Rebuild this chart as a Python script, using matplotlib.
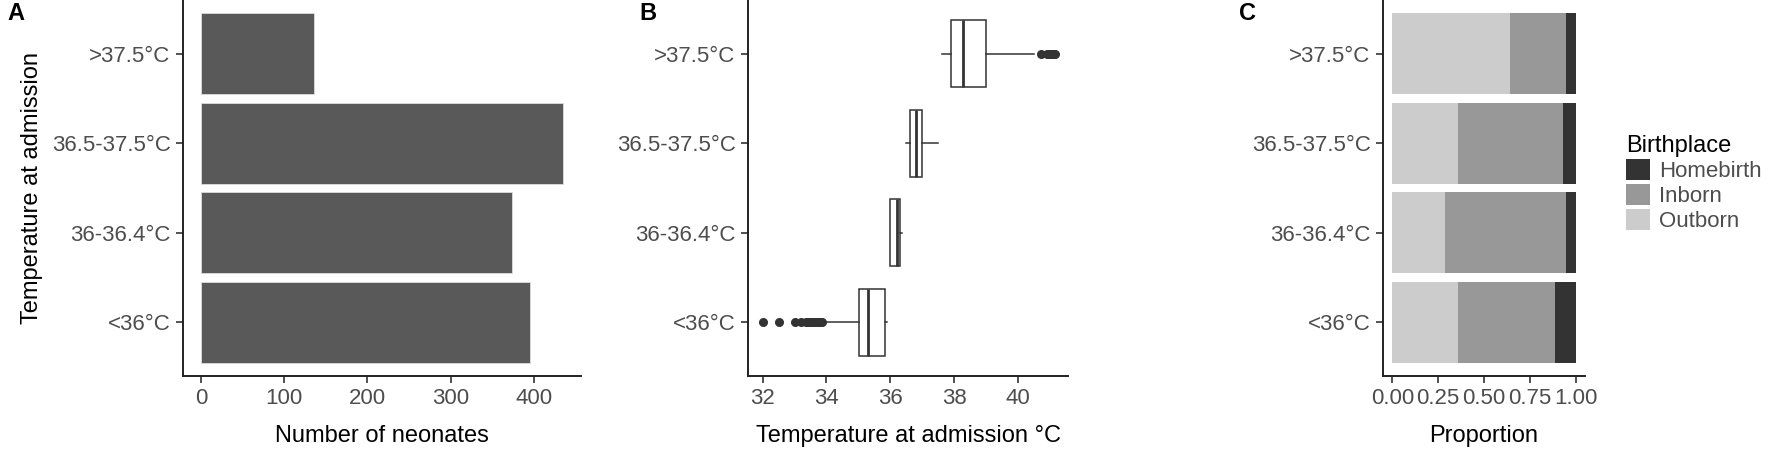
import matplotlib.pyplot as plt
import numpy as np

plt.rcParams['font.family'] = ['Liberation Sans', 'DejaVu Sans']

# categories, bottom to top
categories = ['<36°C', '36-36.4°C', '36.5-37.5°C', '>37.5°C']

# panel A: counts
counts = [395, 374, 435, 136]

# panel B: box plot stats (whisker low, q1, median, q3, whisker high)
whislo = [33.9, 36.0, 36.5, 37.6]
q1 = [35.03, 36.0, 36.62, 37.9]
med = [35.29, 36.2, 36.8, 38.27]
q3 = [35.82, 36.3, 36.99, 38.99]
whishi = [35.88, 36.37, 37.5, 40.5]
outliers = [
    [32.0, 32.53, 33.02, 33.2, 33.35, 33.4, 33.45, 33.5, 33.55, 33.6, 33.65, 33.7, 33.75, 33.8, 33.85],
    [],
    [],
    [40.7, 40.9, 40.95, 41.0, 41.05, 41.1, 41.15],
]

# panel C: proportions by birthplace
births = ['Homebirth', 'Inborn', 'Outborn']
outborn = [0.358, 0.288, 0.358, 0.64]
inborn = [0.528, 0.658, 0.571, 0.306]
homebirth = [0.114, 0.054, 0.071, 0.054]
fill_cols = {'Homebirth': '#333333', 'Inborn': '#989898', 'Outborn': '#cccccc'}

TICK_FS = 16
TITLE_FS = 17
TXT = '#4d4d4d'


def style(ax):
    for s in ['top', 'right']:
        ax.spines[s].set_visible(False)
    for s in ['left', 'bottom']:
        ax.spines[s].set_linewidth(1.4)
        ax.spines[s].set_color('#222222')
    ax.tick_params(length=5, width=1.2, color='#333333', labelsize=TICK_FS,
                   labelcolor=TXT, pad=4)
    ax.set_ylim(0.4, 4.6)
    ax.set_yticks(range(1, 5))
    ax.set_yticklabels(categories)


fig = plt.figure(figsize=(17.7, 4.53), dpi=100)
y = np.arange(1, 5)

# A
axA = fig.add_axes([0.1034, 0.170, 0.2249, 0.830])
axA.barh(y, counts, height=0.9, color='#595959', edgecolor='#dddddd', linewidth=0.6)
axA.set_xlim(-21.75, 456.75)
axA.set_xticks([0, 100, 200, 300, 400])
style(axA)
axA.set_xlabel('Number of neonates', fontsize=TITLE_FS, labelpad=11)
axA.set_ylabel('Temperature at admission', fontsize=TITLE_FS, labelpad=6)

# B
axB = fig.add_axes([0.4226, 0.170, 0.1808, 0.830])
stats = []
for i in range(4):
    stats.append(dict(whislo=whislo[i], q1=q1[i], med=med[i], q3=q3[i],
                      whishi=whishi[i], fliers=outliers[i]))
axB.bxp(stats, positions=y, vert=False, widths=0.75, showcaps=False,
        patch_artist=True,
        boxprops=dict(facecolor='white', edgecolor='#333333', linewidth=1.1),
        whiskerprops=dict(color='#333333', linewidth=1.1),
        medianprops=dict(color='#333333', linewidth=2.0),
        flierprops=dict(marker='o', markersize=5.5, markerfacecolor='#333333',
                        markeredgecolor='#333333'))
axB.set_xlim(31.545, 41.555)
axB.set_xticks([32, 34, 36, 38, 40])
style(axB)
axB.set_xlabel('Temperature at admission °C', fontsize=TITLE_FS, labelpad=11)

# C
axC = fig.add_axes([0.7814, 0.170, 0.1141, 0.830])
left = np.zeros(4)
for name, vals in [('Outborn', outborn), ('Inborn', inborn), ('Homebirth', homebirth)]:
    axC.barh(y, vals, left=left, height=0.9, color=fill_cols[name], label=name)
    left = left + np.array(vals)
axC.set_xlim(-0.05, 1.05)
axC.set_xticks([0, 0.25, 0.5, 0.75, 1.0])
axC.set_xticklabels(['0.00', '0.25', '0.50', '0.75', '1.00'])
style(axC)
axC.set_xlabel('Proportion', fontsize=TITLE_FS, labelpad=11)

handles, labels = axC.get_legend_handles_labels()
order = [labels.index(b) for b in births]
leg = fig.legend([handles[i] for i in order], births, loc='center left',
                 bbox_to_anchor=(0.9186, 0.595), frameon=False, fontsize=TICK_FS,
                 title='Birthplace', title_fontsize=TITLE_FS, handlelength=1.1,
                 handleheight=1.05, handletextpad=0.4, labelspacing=0.1,
                 borderpad=0, borderaxespad=0)
leg._legend_box.align = 'left'
for t in leg.get_texts():
    t.set_color(TXT)

# panel letters
for x, lab in [(0.004, 'A'), (0.361, 'B'), (0.700, 'C')]:
    fig.text(x, 0.97, lab, fontsize=17, fontweight='bold', va='center', ha='left')

fig.savefig('out.png', dpi=100)
